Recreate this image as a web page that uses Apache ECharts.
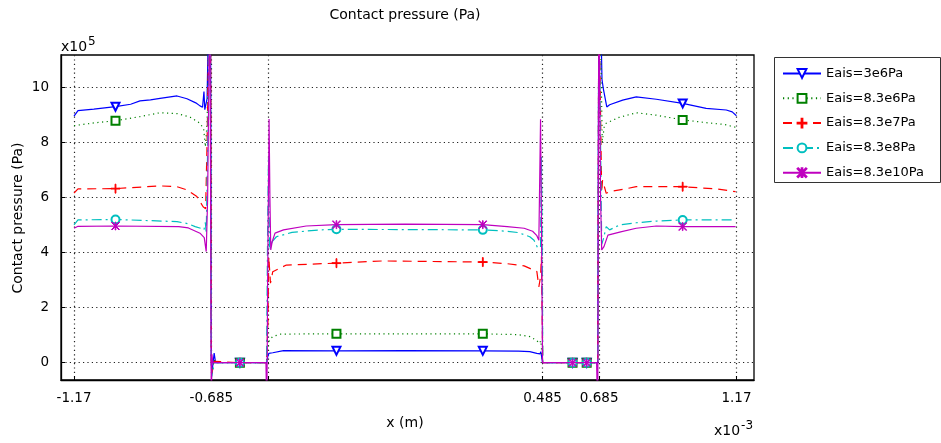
<!DOCTYPE html>
<html>
<head>
<meta charset="utf-8">
<script src="https://cdn.jsdelivr.net/npm/echarts@6/dist/echarts.min.js"></script>
<style>
  html, body { margin: 0; padding: 0; background: #fff; }
  #chart { width: 941px; height: 443px; }
</style>
</head>
<body>
<div id="chart"></div>
<script>
// x in units of 1e-3 m, pressure in units of 1e5 Pa
const seriesNames = ['Eais=3e6Pa', 'Eais=8.3e6Pa', 'Eais=8.3e7Pa', 'Eais=8.3e8Pa', 'Eais=8.3e10Pa'];

const xTicks = [-1.17, -0.685, -0.485, 0.485, 0.685, 1.17];
const xTickLabels = [-1.17, -0.685, 0.485, 0.685, 1.17];
const yTicks = [0, 2, 4, 6, 8, 10];

// x positions where each curve carries a marker
const markerX = [-1.0235, -0.584, -0.243, 0.274, 0.591, 0.641, 0.98];

const blueX = [-1.17, -1.156, -1.10, -1.0235, -0.97, -0.937, -0.90, -0.866, -0.806, -0.771, -0.740, -0.725, -0.716, -0.711, -0.708, -0.700, -0.693, -0.688,
  -0.685, -0.683, -0.675, -0.670, -0.584, -0.490,
  -0.486, -0.482, -0.476, -0.468, -0.43, -0.243, 0.0, 0.274, 0.40, 0.44, 0.465, 0.476, 0.479, 0.482, 0.485,
  0.591, 0.641, 0.680,
  0.684, 0.690, 0.695, 0.700, 0.712, 0.722, 0.768, 0.816, 0.887, 0.98, 1.063, 1.134, 1.155, 1.17];
const blueY = [8.97, 9.17, 9.22, 9.31, 9.40, 9.52, 9.56, 9.61, 9.70, 9.60, 9.45, 9.34, 9.29, 9.86, 9.20, 9.60, 13.5, 14,
  0, -0.4, 0.35, 0, 0, 0,
  0.2, 0.34, 0.28, 0.36, 0.44, 0.43, 0.44, 0.43, 0.42, 0.40, 0.34, 0.32, 0.40, 0.2, 0,
  0, 0, 0,
  14, 13, 10.3, 9.95, 9.30, 9.38, 9.55, 9.67, 9.58, 9.43, 9.25, 9.19, 9.12, 8.98];

const greenX = [-1.17, -1.10, -1.0235, -0.937, -0.866, -0.806, -0.76, -0.725, -0.712, -0.706, -0.700, -0.692, -0.688,
  -0.685, -0.683, -0.675, -0.670, -0.584, -0.490,
  -0.485, -0.480, -0.468, -0.44, -0.243, 0.0, 0.274, 0.40, 0.44, 0.465, 0.474, 0.479, 0.483, 0.485,
  0.591, 0.641, 0.680,
  0.684, 0.690, 0.696, 0.703, 0.710, 0.755, 0.816, 0.887, 0.98, 1.063, 1.13, 1.167];
const greenY = [8.62, 8.72, 8.80, 8.95, 9.09, 9.06, 8.93, 8.71, 8.50, 7.85, 8.70, 13, 14,
  0, -0.4, 0.1, 0, 0, 0,
  0.5, 0.83, 0.95, 1.04, 1.05, 1.05, 1.05, 1.02, 0.95, 0.80, 0.70, 0.80, 0.3, 0,
  0, 0, 0,
  14, 12, 8.0, 8.6, 8.71, 8.92, 9.09, 9.0, 8.83, 8.73, 8.66, 8.56];

const redX = [-1.17, -1.156, -1.0235, -0.866, -0.806, -0.77, -0.736, -0.714, -0.705, -0.700, -0.692, -0.688,
  -0.685, -0.683, -0.675, -0.670, -0.584, -0.490,
  -0.485, -0.482, -0.476, -0.468, -0.42, -0.243, -0.08, 0.274, 0.36, 0.42, 0.44, 0.465, 0.472, 0.478, 0.481, 0.484, 0.486,
  0.591, 0.641, 0.680,
  0.684, 0.690, 0.694, 0.697, 0.710, 0.722, 0.768, 0.816, 0.98, 1.10, 1.167];
const redY = [6.17, 6.32, 6.33, 6.43, 6.40, 6.28, 6.04, 5.67, 5.60, 8.0, 13, 14,
  0, -0.4, 0.05, 0, 0, 0,
  1.5, 3.85, 2.89, 3.31, 3.55, 3.62, 3.70, 3.66, 3.60, 3.52, 3.43, 3.31, 2.76, 3.13, 3.85, 1.5, 0,
  0, 0, 0,
  14, 9, 6.2, 6.64, 6.16, 6.22, 6.30, 6.40, 6.40, 6.32, 6.22];

const cyanX = [-1.17, -1.156, -1.0235, -0.806, -0.77, -0.742, -0.72, -0.711, -0.706, -0.703, -0.696, -0.690,
  -0.685, -0.683, -0.675, -0.584, -0.490,
  -0.486, -0.483, -0.479, -0.470, -0.455, -0.40, -0.30, -0.243, 0.274, 0.36, 0.40, 0.44, 0.455, 0.468, 0.478, 0.481, 0.484, 0.486,
  0.591, 0.641, 0.680,
  0.684, 0.690, 0.694, 0.700, 0.710, 0.722, 0.758, 0.816, 0.887, 0.98, 1.167];
const cyanY = [5.01, 5.19, 5.21, 5.13, 5.06, 4.95, 4.88, 4.83, 5.10, 4.70, 9, 14,
  0, -0.5, 0, 0, 0,
  5, 7.5, 4.1, 4.4, 4.58, 4.74, 4.83, 4.85, 4.83, 4.78, 4.73, 4.58, 4.45, 4.17, 4.2, 7.5, 4, 0,
  0, 0, 0,
  14, 8, 4.3, 4.5, 4.95, 4.83, 5.01, 5.09, 5.15, 5.19, 5.19];

const magentaX = [-1.17, -1.156, -1.0235, -0.80, -0.766, -0.725, -0.710, -0.703, -0.698, -0.690, -0.686,
  -0.685, -0.683, -0.680, -0.584, -0.492,
  -0.489, -0.486, -0.481, -0.478, -0.475, -0.47, -0.46, -0.43, -0.35, -0.243, 0.0, 0.274, 0.36, 0.42, 0.45, 0.465, 0.472, 0.476, 0.478, 0.482, 0.485,
  0.591, 0.641, 0.676,
  0.680, 0.684, 0.690, 0.694, 0.702, 0.716, 0.761, 0.816, 0.887, 0.98, 1.167];
const magentaY = [4.89, 4.96, 4.97, 4.95, 4.90, 4.71, 4.55, 4.04, 6, 14, 14,
  -2, 0.3, 0, 0, 0,
  -2, 3, 8.86, 6, 4.1, 4.4, 4.71, 4.83, 4.97, 5.02, 5.04, 5.02, 4.95, 4.89, 4.78, 4.62, 4.45, 4.4, 8.85, 4.0, 0,
  0, 0, 0,
  -2, 14, 6, 4.1, 4.22, 4.64, 4.76, 4.89, 4.97, 4.95, 4.95];

const colors = ['#0000ff', '#008000', '#ff0000', '#00bfbf', '#bf00bf'];
const dashes = ['solid', [1.2, 3.5], [9, 6], [10, 4, 2, 4], 'solid'];
const symbols = [
  'emptyTriangle',
  'emptyRect',
  'path://M0,4.55H10V5.45H0Z M4.55,0H5.45V10H4.55Z',
  'emptyCircle',
  'path://M0.6,0L5,4.4L9.4,0L10,0.6L5.6,5L10,9.4L9.4,10L5,5.6L0.6,10L0,9.4L4.4,5L0,0.6Z M4.6,0H5.4V10H4.6Z'
];
const symbolSizes = [8, 8, 9, 8, 8];
const symbolRotate = [180, 0, 0, 0, 0];
const xs = [blueX, greenX, redX, cyanX, magentaX];
const ys = [blueY, greenY, redY, cyanY, magentaY];

function buildData(xArr, yArr) {
  return xArr.map((x, i) => {
    const marked = markerX.some(m => Math.abs(m - x) < 1e-9);
    return marked ? { value: [x, yArr[i]] } : { value: [x, yArr[i]], symbol: 'none' };
  });
}

const font = 'DejaVu Sans';
const gridLine = { show: true, lineStyle: { color: '#222', type: [1.2, 3.2], width: 1.2 } };

const series = seriesNames.map((name, k) => ({
  name: name,
  type: 'line',
  data: buildData(xs[k], ys[k]),
  symbol: symbols[k],
  symbolSize: symbolSizes[k],
  symbolRotate: symbolRotate[k],
  showAllSymbol: true,
  clip: true,
  animation: false,
  color: colors[k],
  lineStyle: { color: colors[k], width: 1.2, type: dashes[k] },
  itemStyle: { color: colors[k], borderColor: colors[k], borderWidth: 1 },
  z: 2 + k
}));

const labelFont = '14px "DejaVu Sans"';

const chart = echarts.init(document.getElementById('chart'), null, { renderer: 'canvas' });
chart.setOption({
  backgroundColor: '#fff',
  animation: false,
  textStyle: { fontFamily: font },
  grid: { left: 61, top: 55, width: 693, height: 325, show: true, borderColor: '#000', borderWidth: 1.3, backgroundColor: '#fff' },
  legend: {
    orient: 'vertical',
    left: 772, top: 55,
    padding: [12, 14, 4, 10],
    itemWidth: 38, itemHeight: 11, itemGap: 11.8,
    textStyle: { fontFamily: font, fontSize: 13, color: '#000' },
    data: seriesNames
  },
  xAxis: {
    type: 'value',
    min: -1.216, max: 1.232,
    axisLine: { show: true, onZero: false, lineStyle: { color: '#000', width: 1.3 } },
    axisTick: { show: true, inside: true, length: 4, customValues: xTicks, lineStyle: { color: '#000' } },
    axisLabel: { customValues: xTickLabels, margin: 11, fontFamily: font, fontSize: 13.5, color: '#000', formatter: v => String(v) },
    splitLine: gridLine
  },
  yAxis: {
    type: 'value',
    min: -0.63, max: 11.19,
    axisLine: { show: true, onZero: false, lineStyle: { color: '#000', width: 1.3 } },
    axisTick: { show: true, inside: true, length: 4, customValues: yTicks, lineStyle: { color: '#000' } },
    axisLabel: { customValues: yTicks, margin: 12, fontFamily: font, fontSize: 13.5, color: '#000' },
    splitLine: gridLine
  },
  graphic: [
    { type: 'rect', left: 772, top: 55, shape: { width: 166, height: 125 }, style: { fill: 'none', stroke: '#333', lineWidth: 1 }, z: 100 },
    { type: 'text', x: 405, y: 15, style: { text: 'Contact pressure (Pa)', font: labelFont, fill: '#000', align: 'center', verticalAlign: 'middle' } },
    { type: 'text', x: 18, y: 218, rotation: Math.PI / 2, style: { text: 'Contact pressure (Pa)', font: labelFont, fill: '#000', align: 'center', verticalAlign: 'middle' } },
    { type: 'text', x: 405, y: 423, style: { text: 'x (m)', font: labelFont, fill: '#000', align: 'center', verticalAlign: 'middle' } },
    { type: 'text', x: 61, y: 54, style: { text: '{b|x10}{s|5}', verticalAlign: 'bottom', rich: { b: { font: '14px "DejaVu Sans"', fill: '#000', verticalAlign: 'bottom' }, s: { font: '12px "DejaVu Sans"', fill: '#000', verticalAlign: 'top', padding: [0, 0, 6, 1] } } } },
    { type: 'text', x: 714, y: 438, style: { text: '{b|x10}{s|-3}', verticalAlign: 'bottom', rich: { b: { font: '14px "DejaVu Sans"', fill: '#000', verticalAlign: 'bottom' }, s: { font: '12px "DejaVu Sans"', fill: '#000', verticalAlign: 'top', padding: [0, 0, 6, 1] } } } }
  ],
  series: series
});
</script>
</body>
</html>
